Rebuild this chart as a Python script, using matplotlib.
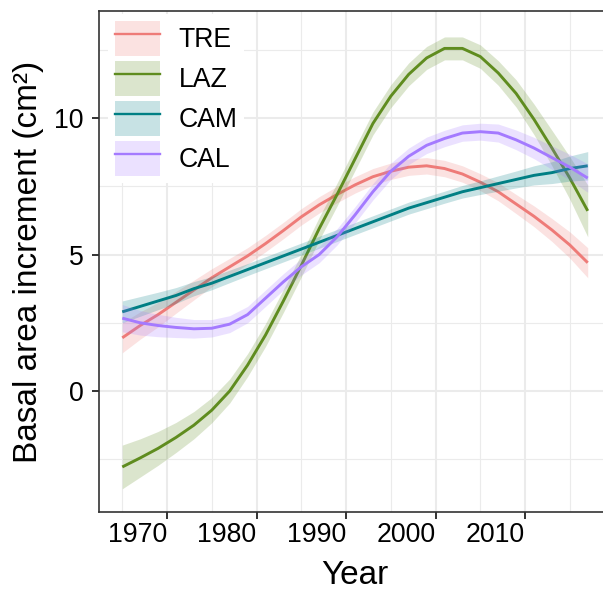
import matplotlib
matplotlib.use("Agg")
import matplotlib.pyplot as plt
from matplotlib.patches import Patch
from matplotlib.lines import Line2D
from matplotlib.ticker import FixedLocator

plt.rcParams['font.family'] = ['Liberation Sans', 'DejaVu Sans']

# smoothed basal area increment per site
years = [1965, 1967, 1969, 1971, 1973, 1975, 1977, 1979, 1981, 1983, 1985, 1987, 1989,
         1991, 1993, 1995, 1997, 1999, 2001, 2003, 2005, 2007, 2009, 2011, 2013, 2015, 2017]

tre = [1.95, 2.4, 2.8, 3.25, 3.7, 4.15, 4.55, 4.95, 5.4, 5.88, 6.38, 6.82, 7.2,
       7.55, 7.85, 8.05, 8.2, 8.25, 8.15, 7.95, 7.65, 7.3, 6.85, 6.4, 5.9, 5.35, 4.7]
laz = [-2.78, -2.45, -2.1, -1.7, -1.25, -0.7, 0.0, 0.95, 2.05, 3.3, 4.6, 5.95, 7.2,
       8.5, 9.8, 10.8, 11.6, 12.2, 12.55, 12.55, 12.25, 11.65, 10.9, 9.95, 8.9, 7.8, 6.6]
cam = [2.9, 3.1, 3.3, 3.5, 3.75, 3.95, 4.2, 4.45, 4.7, 4.95, 5.2, 5.45, 5.7,
       5.95, 6.2, 6.45, 6.7, 6.9, 7.1, 7.3, 7.45, 7.6, 7.75, 7.9, 8.0, 8.15, 8.25]
cal = [2.67, 2.5, 2.4, 2.33, 2.28, 2.3, 2.45, 2.8, 3.4, 4.0, 4.55, 5.0, 5.65,
       6.45, 7.3, 8.05, 8.6, 9.0, 9.25, 9.45, 9.5, 9.45, 9.2, 8.9, 8.55, 8.2, 7.8]

# half width of the confidence band
tre_ci = [0.55, 0.5, 0.45, 0.4, 0.36, 0.33, 0.31, 0.3, 0.3, 0.3, 0.3, 0.3, 0.3,
          0.3, 0.3, 0.3, 0.3, 0.3, 0.3, 0.3, 0.31, 0.33, 0.35, 0.38, 0.42, 0.48, 0.55]
laz_ci = [0.8, 0.7, 0.62, 0.55, 0.5, 0.46, 0.44, 0.42, 0.42, 0.42, 0.42, 0.42, 0.42,
          0.42, 0.42, 0.42, 0.42, 0.42, 0.42, 0.42, 0.43, 0.45, 0.5, 0.56, 0.65, 0.78, 0.95]
cam_ci = [0.4, 0.36, 0.32, 0.29, 0.26, 0.24, 0.23, 0.22, 0.22, 0.22, 0.22, 0.22, 0.22,
          0.22, 0.22, 0.22, 0.22, 0.22, 0.22, 0.23, 0.25, 0.28, 0.31, 0.35, 0.4, 0.46, 0.52]
cal_ci = [0.5, 0.45, 0.41, 0.37, 0.34, 0.32, 0.31, 0.3, 0.3, 0.3, 0.3, 0.3, 0.3,
          0.3, 0.3, 0.3, 0.3, 0.3, 0.3, 0.3, 0.31, 0.33, 0.36, 0.39, 0.43, 0.47, 0.52]

sites = ['TRE', 'LAZ', 'CAM', 'CAL']
series = [tre, laz, cam, cal]
bands = [tre_ci, laz_ci, cam_ci, cal_ci]
colors = ['#EE7B78', '#5F8C1F', '#007F84', '#A47AFF']

x_major = [1970, 1980, 1990, 2000, 2010]
x_minor = [1965, 1975, 1985, 1995, 2005, 2015]
y_major = [0, 5, 10]
y_minor = [-2.5, 2.5, 7.5, 12.5]

W, H = 603, 589
fig = plt.figure(figsize=(W / 100, H / 100), dpi=100)
ax = fig.add_axes([99 / W, 1 - 512 / H, 512 / W, 501 / H])

handles = []
for i, (name, ys, ci, c) in enumerate(zip(sites, series, bands, colors)):
    lo = [v - e for v, e in zip(ys, ci)]
    hi = [v + e for v, e in zip(ys, ci)]
    ax.fill_between(years, lo, hi, color=c, alpha=0.22, lw=0, zorder=3 + 2 * i)
    ax.plot(years, ys, color=c, lw=2.1, zorder=4 + 2 * i, solid_capstyle='butt')
    handles.append((Patch(facecolor=c, alpha=0.22, edgecolor='none'),
                    Line2D([], [], color=c, lw=1.7)))

ax.set_xlim(1962.4, 2019.6)
ax.set_ylim(-4.43, 13.92)

ax.xaxis.set_major_locator(FixedLocator(x_major))
ax.xaxis.set_minor_locator(FixedLocator(x_minor))
ax.yaxis.set_major_locator(FixedLocator(y_major))
ax.yaxis.set_minor_locator(FixedLocator(y_minor))

ax.grid(which='major', color='#EBEBEB', lw=1.5, zorder=0)
ax.grid(which='minor', color='#EBEBEB', lw=0.8, zorder=0)
ax.set_axisbelow(True)

for s in ax.spines.values():
    s.set_color('#333333')
    s.set_linewidth(1.2)

ax.tick_params(which='major', length=5, width=1.4, color='#333333',
               labelsize=19.2, labelcolor='black')
ax.tick_params(which='minor', length=0)
ax.tick_params(axis='x', pad=2.5)
ax.tick_params(axis='y', pad=6)
for lab in ax.get_xticklabels():
    lab.set_horizontalalignment('right')

ax.set_xlabel('Year', fontsize=24, labelpad=8)
ax.set_ylabel('Basal area increment (cm²)', fontsize=24, labelpad=7)

fs = 19.2 * 100 / 72
leg = ax.legend(handles, sites, loc='upper left',
                bbox_to_anchor=(108 / W, 1 - 14 / H), bbox_transform=fig.transFigure,
                borderaxespad=0, borderpad=0.25, fontsize=19.2,
                handlelength=45 / fs, handleheight=44 / fs,
                labelspacing=5 / fs, handletextpad=19 / fs,
                frameon=True, fancybox=False, framealpha=1)
leg.get_frame().set_facecolor('white')
leg.get_frame().set_edgecolor('none')
leg.set_zorder(20)

fig.savefig('out.png', dpi=100)
